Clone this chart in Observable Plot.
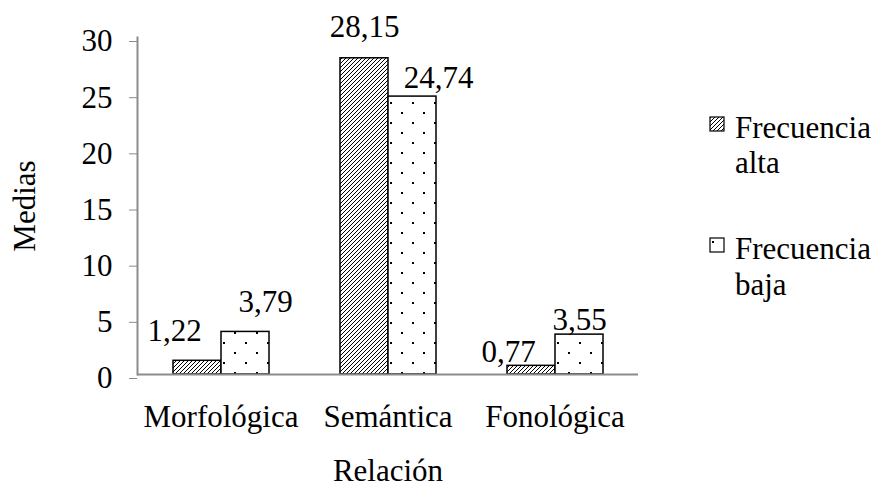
<!DOCTYPE html>
<html>
<head>
<meta charset="utf-8">
<script src="https://cdn.jsdelivr.net/npm/d3@7"></script>
<script src="https://cdn.jsdelivr.net/npm/@observablehq/plot@0.6"></script>
<style>
  html, body { margin: 0; padding: 0; background: white; }
  svg { display: block; }
  svg [aria-label="y-axis tick"] { stroke: #8c8c8c; }
</style>
</head>
<body>
<div id="chart"></div>
<script>
const categories = ["Morfológica", "Semántica", "Fonológica"];
const series = ["Frecuencia alta", "Frecuencia baja"];
const alta = [1.22, 28.15, 0.77];
const baja = [3.79, 24.74, 3.55];
const yTicks = [0, 5, 10, 15, 20, 25, 30];
const legendLines = [["Frecuencia", "alta"], ["Frecuencia", "baja"]];

// label nudges (layout tweaks, matching the original label placement)
const nudge = {
  "Morfológica|Frecuencia alta": [-23, -20],
  "Morfológica|Frecuencia baja": [20, -20],
  "Semántica|Frecuencia alta": [0, -21],
  "Semántica|Frecuencia baja": [26, -9],
  "Fonológica|Frecuencia alta": [-23, -4],
  "Fonológica|Frecuencia baja": [0, -5]
};

const table = categories.flatMap((c, i) => [
  {category: c, series: series[0], value: alta[i]},
  {category: c, series: series[1], value: baja[i]}
]);
const fmt = v => String(v).replace(".", ",");
const FONT = "'Liberation Serif', 'Times New Roman', serif";

const labelMarks = table.map(d => {
  const [dx, dy] = nudge[d.category + "|" + d.series];
  return Plot.text([d], {
    fx: "category", x: "series", y: "value",
    text: d => fmt(d.value), lineAnchor: "bottom", textAnchor: "middle",
    dx, dy, fill: "black", fontSize: 31
  });
});

const plot = Plot.plot({
  width: 878,
  height: 486,
  marginLeft: 136,
  marginRight: 240,
  marginTop: 37,
  marginBottom: 112,
  style: {fontFamily: FONT, fontSize: "31px", color: "black", background: "white"},
  fx: {domain: categories, paddingInner: 0, paddingOuter: 0},
  x: {domain: series, paddingInner: 0, paddingOuter: 0.728, axis: null},
  y: {domain: [0, 30]},
  color: {domain: series, range: ["url(#hatchAlta)", "url(#dotsBaja)"]},
  marks: [
    Plot.barY(table, {fx: "category", x: "series", y: "value", fill: "series", stroke: "black", strokeWidth: 1.5}),
    Plot.ruleY([0], {stroke: "#8c8c8c", strokeWidth: 2}),
    Plot.frame({anchor: "left", facetAnchor: "left", stroke: "#8c8c8c", strokeWidth: 2}),
    Plot.axisY({ticks: yTicks, tickSize: 8, tickPadding: 17, dy: 4, stroke: "#8c8c8c", fill: "black",
      label: "Medias", labelArrow: "none", labelAnchor: "center", labelOffset: 125, fontSize: 31}),
    Plot.axisFx({anchor: "bottom", tickSize: 0, tickPadding: 30, fill: "black",
      label: "Relación", labelAnchor: "center", labelOffset: 106, fontSize: 31}),
    ...labelMarks
  ]
});

const svg = d3.select(plot);
const defs = svg.insert("defs", ":first-child");
const hatch = defs.append("pattern").attr("id", "hatchAlta")
  .attr("patternUnits", "userSpaceOnUse").attr("width", 4).attr("height", 4);
hatch.append("rect").attr("width", 4).attr("height", 4).attr("fill", "white");
hatch.append("path").attr("d", "M-1,1 l2,-2 M0,4 l4,-4 M3,5 l2,-2")
  .attr("stroke", "black").attr("stroke-width", 1);
const dots = defs.append("pattern").attr("id", "dotsBaja")
  .attr("patternUnits", "userSpaceOnUse").attr("width", 22).attr("height", 20);
dots.append("rect").attr("width", 22).attr("height", 20).attr("fill", "white");
dots.append("rect").attr("x", 2).attr("y", 2).attr("width", 2).attr("height", 2).attr("fill", "black");
dots.append("rect").attr("x", 13).attr("y", 12).attr("width", 2).attr("height", 2).attr("fill", "black");

// legend
const legendPos = [{sq: 117, y1: 138, y2: 173}, {sq: 238, y1: 259, y2: 295}];
const lg = svg.append("g").attr("font-family", FONT).attr("font-size", 31)
  .attr("text-anchor", "start").attr("fill", "black");
series.forEach((s, i) => {
  const p = legendPos[i];
  lg.append("rect").attr("x", 710).attr("y", p.sq).attr("width", 14).attr("height", 14)
    .attr("fill", i === 0 ? "url(#hatchAlta)" : "white").attr("stroke", "black").attr("stroke-width", 1.2);
  if (i === 1) lg.append("rect").attr("x", 712).attr("y", p.sq + 3).attr("width", 2).attr("height", 2).attr("fill", "black");
  lg.append("text").attr("x", 735).attr("y", p.y1).text(legendLines[i][0]);
  lg.append("text").attr("x", 735).attr("y", p.y2).text(legendLines[i][1]);
});

document.getElementById("chart").appendChild(plot);
</script>
</body>
</html>
